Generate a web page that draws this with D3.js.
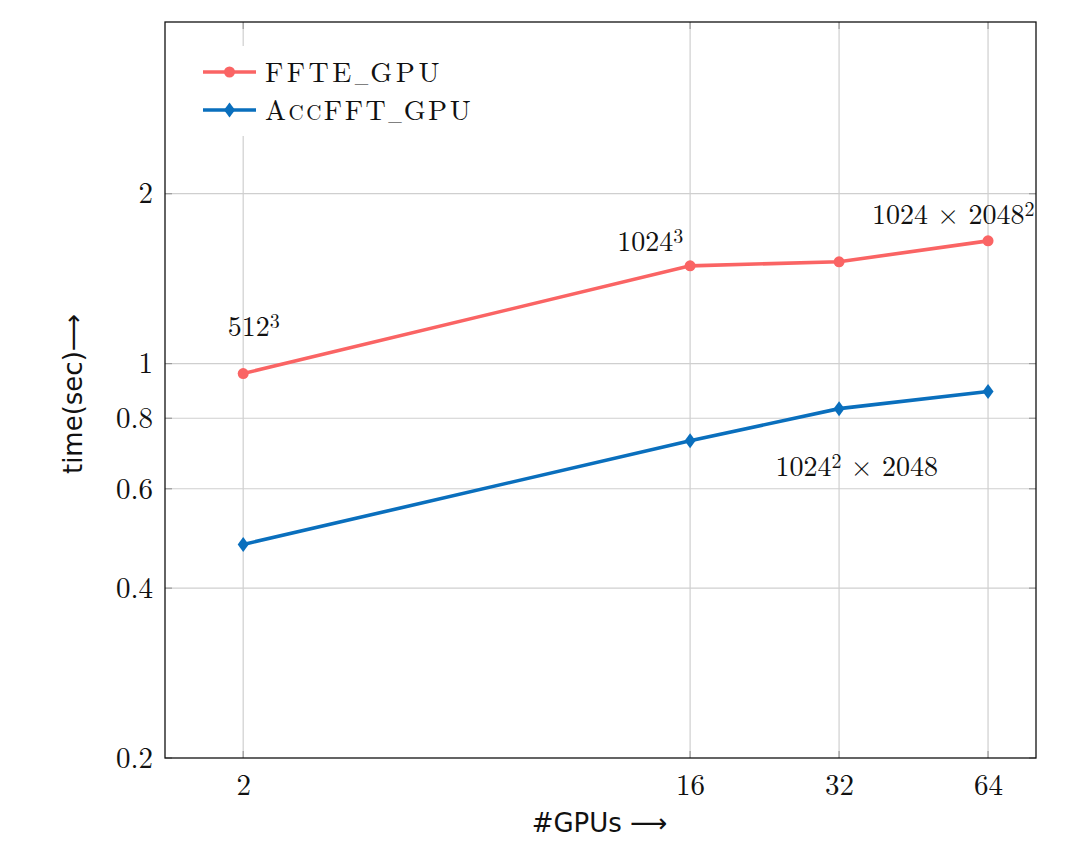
<!DOCTYPE html>
<html>
<head>
<meta charset="utf-8">
<script src="https://cdn.jsdelivr.net/npm/d3@7"></script>
<style>
  body { margin: 0; background: #fff; }
  svg { display: block; }
</style>
</head>
<body>
<div id="chart"></div>
<script>
// data
const gpus = [2, 16, 32, 64];
const ffteTimes = [0.96, 1.49, 1.515, 1.65];
const accfftTimes = [0.478, 0.73, 0.832, 0.892];
const xTicks = [2, 16, 32, 64];
const yTicks = [0.2, 0.4, 0.6, 0.8, 1, 2];

// problem size notes, placed in data units
const notes = [
    { x: 2.1, y: 1.12, parts: [["512", ""], ["3", "sup"]], anchor: "middle" },
    { x: 15.5, y: 1.58, parts: [["1024", ""], ["3", "sup"]], anchor: "end" },
    { x: 37.3, y: 1.77, parts: [["1024 × 2048", ""], ["2", "sup"]], anchor: "start" },
    { x: 23.8, y: 0.633, parts: [["1024", ""], ["2", "sup"], [" × 2048", ""]], anchor: "start" }
];

const W = 1088, H = 841;
const mLeft = 165, mRight = 1036, mTop = 22, mBottom = 758;
const serif = "'Latin Modern Roman', 'CMU Serif', 'Liberation Serif', serif";
const sans = "'DejaVu Sans', sans-serif";
const red = "#fa6464", blue = "#0a6fbd";

const x = d3.scaleLog().base(2).domain([1.39, 80]).range([mLeft, mRight]);
const y = d3.scaleLog().domain([0.2, 4.03]).range([mBottom, mTop]);

const svg = d3.select("#chart").append("svg")
    .attr("width", W)
    .attr("height", H);

// grid
svg.append("g")
    .selectAll(null)
    .data(xTicks)
    .join("line")
    .attr("x1", d => x(d)).attr("x2", d => x(d))
    .attr("y1", mTop).attr("y2", mBottom)
    .attr("stroke", "#cfcfcf").attr("stroke-width", 1.2);

svg.append("g")
    .selectAll(null)
    .data(yTicks.filter(d => d > 0.2))
    .join("line")
    .attr("x1", mLeft).attr("x2", mRight)
    .attr("y1", d => y(d)).attr("y2", d => y(d))
    .attr("stroke", "#cfcfcf").attr("stroke-width", 1.2);

// tick marks on both sides, inward
const tk = 7;
const tickG = svg.append("g").attr("stroke", "#9a9a9a").attr("stroke-width", 1.2);
xTicks.forEach(t => {
    tickG.append("line").attr("x1", x(t)).attr("x2", x(t)).attr("y1", mBottom).attr("y2", mBottom - tk);
    tickG.append("line").attr("x1", x(t)).attr("x2", x(t)).attr("y1", mTop).attr("y2", mTop + tk);
});
yTicks.forEach(t => {
    tickG.append("line").attr("x1", mLeft).attr("x2", mLeft + tk).attr("y1", y(t)).attr("y2", y(t));
    tickG.append("line").attr("x1", mRight).attr("x2", mRight - tk).attr("y1", y(t)).attr("y2", y(t));
});

// axes labels via d3 axes
const xAxis = svg.append("g")
    .attr("transform", `translate(0,${mBottom})`)
    .call(d3.axisBottom(x).tickValues(xTicks).tickFormat(d3.format("d")).tickSize(0).tickPadding(12));
const yAxis = svg.append("g")
    .attr("transform", `translate(${mLeft},0)`)
    .call(d3.axisLeft(y).tickValues(yTicks).tickFormat(d => String(d)).tickSize(0).tickPadding(12));
[xAxis, yAxis].forEach(a => {
    a.select(".domain").remove();
    a.selectAll("text")
        .attr("font-family", serif)
        .attr("font-size", 29)
        .attr("fill", "#111");
});
xAxis.selectAll("text").attr("dy", "0.85em");

// frame
svg.append("rect")
    .attr("x", mLeft).attr("y", mTop)
    .attr("width", mRight - mLeft).attr("height", mBottom - mTop)
    .attr("fill", "none").attr("stroke", "#111").attr("stroke-width", 1.3);

// series
const line = d3.line()
    .x(d => x(d[0]))
    .y(d => y(d[1]));

const ffte = gpus.map((g, i) => [g, ffteTimes[i]]);
const accfft = gpus.map((g, i) => [g, accfftTimes[i]]);

svg.append("path")
    .datum(ffte)
    .attr("d", line)
    .attr("fill", "none").attr("stroke", red).attr("stroke-width", 3.6);
svg.append("g")
    .selectAll(null)
    .data(ffte)
    .join("circle")
    .attr("cx", d => x(d[0])).attr("cy", d => y(d[1]))
    .attr("r", 5.5)
    .attr("fill", red);

const diamond = "M0,-7.5L5.5,0L0,7.5L-5.5,0Z";
svg.append("path")
    .datum(accfft)
    .attr("d", line)
    .attr("fill", "none").attr("stroke", blue).attr("stroke-width", 3.6);
svg.append("g")
    .selectAll(null)
    .data(accfft)
    .join("path")
    .attr("d", diamond)
    .attr("transform", d => `translate(${x(d[0])},${y(d[1])})`)
    .attr("fill", blue);

// notes
notes.forEach(n => {
    const t = svg.append("text")
        .attr("x", x(n.x)).attr("y", y(n.y))
        .attr("text-anchor", n.anchor)
        .attr("font-family", serif)
        .attr("font-size", 28)
        .attr("fill", "#111");
    n.parts.forEach(p => {
        const s = t.append("tspan").text(p[0]);
        if (p[1] === "sup") s.attr("font-size", 20).attr("baseline-shift", "42%");
    });
});

// legend
const lg = svg.append("g");
lg.append("rect")
    .attr("x", 188).attr("y", 46)
    .attr("width", 305).attr("height", 90)
    .attr("fill", "#fff");
const legendItems = [
    { name: ["FFTE", "GPU"], color: red, mark: "circle" },
    { name: ["A", "cc", "FFT", "GPU"], color: blue, mark: "diamond" }
];
legendItems.forEach((it, i) => {
    const cy = 72 + i * 38;
    lg.append("line")
        .attr("x1", 203).attr("x2", 256)
        .attr("y1", cy).attr("y2", cy)
        .attr("stroke", it.color).attr("stroke-width", 3.6);
    if (it.mark === "circle") {
        lg.append("circle").attr("cx", 229.5).attr("cy", cy).attr("r", 5.5).attr("fill", it.color);
    } else {
        lg.append("path").attr("d", diamond)
            .attr("transform", `translate(229.5,${cy})`).attr("fill", it.color);
    }
    const t = lg.append("text")
        .attr("x", 265).attr("y", cy + 10)
        .attr("font-family", serif)
        .attr("font-size", 28)
        .attr("fill", "#111");
    const parts = it.name;
    parts.forEach((p, j) => {
        const last = j === parts.length - 1;
        if (parts.length === 4 && j === 1) {
            t.append("tspan").text(p.toUpperCase()).attr("font-size", 21).attr("letter-spacing", 2.5);
            return;
        }
        if (last) {
            // short TeX-style underscore
            t.append("tspan").text("_").attr("font-size", 18).attr("letter-spacing", 2);
        }
        t.append("tspan").text(p).attr("letter-spacing", parts.length === 4 ? 2.5 : 3.5);
    });
});

// axis titles
svg.append("text")
    .attr("x", (mLeft + mRight) / 2 - 1).attr("y", 832)
    .attr("text-anchor", "middle")
    .attr("font-family", sans)
    .attr("font-size", 26)
    .attr("fill", "#111")
    .text("#GPUs ⟶");

svg.append("text")
    .attr("transform", `translate(82,394) rotate(-90)`)
    .attr("text-anchor", "middle")
    .attr("font-family", sans)
    .attr("font-size", 26)
    .attr("fill", "#111")
    .text("time(sec)⟶");
</script>
</body>
</html>
